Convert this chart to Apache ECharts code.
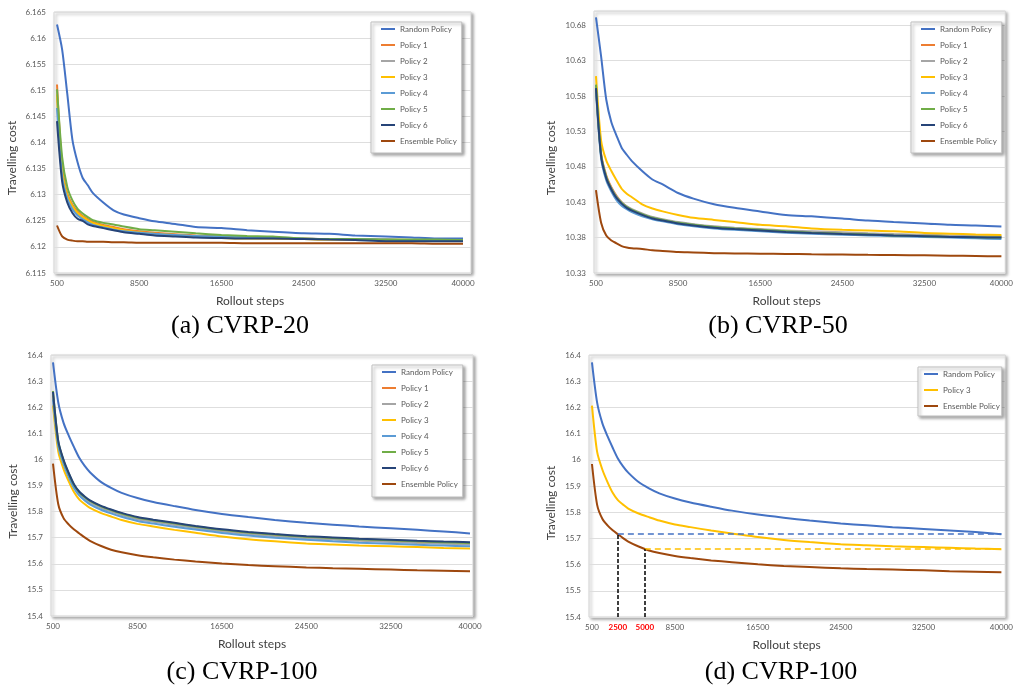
<!DOCTYPE html>
<html>
<head>
<meta charset="utf-8">
<script src="https://cdn.jsdelivr.net/npm/echarts@6/dist/echarts.min.js"></script>
<style>html,body{margin:0;padding:0;background:#fff}#c{width:1016px;height:688px}</style>
</head>
<body>
<div id="c"></div>
<script>
// ---------------- data ----------------
const steps = [500,1000,1500,2000,2500,3000,3500,4000,5000,6000,7000,8500,10000,12000,14000,16500,19000,21500,24500,27000,29500,32500,35000,37500,40000];
const seriesNames = ['Random Policy','Policy 1','Policy 2','Policy 3','Policy 4','Policy 5','Policy 6','Ensemble Policy'];
const dNames = ['Random Policy','Policy 3','Ensemble Policy'];
const xTickValues = [500,8500,16500,24500,32500,40000];
const xTickLabels = ['500','8500','16500','24500','32500','40000'];
// panel (d): annotated crossing positions as drawn, with their printed labels
const dTickValues = [500,3000,5600,8500,16500,24500,32500,40000];
const dTickLabels = ['500','2500','5000','8500','16500','24500','32500','40000'];
const dRedLabels = ['2500','5000'];
const dCrossSteps = [3000,5600];
const dLevels = [15.716,15.659];
const captions = ['(a) CVRP-20','(b) CVRP-50','(c) CVRP-100','(d) CVRP-100'];

// (a) CVRP-20
const a_random = [6.1626,6.1578,6.1493,6.1405,6.1362,6.1332,6.1318,6.1303,6.1285,6.1270,6.1262,6.1255,6.1249,6.1244,6.1238,6.1236,6.1232,6.1229,6.1226,6.1225,6.1222,6.1220,6.1218,6.1216,6.1216];
const a_p1 = [6.1511,6.1355,6.1303,6.1281,6.1268,6.1259,6.1253,6.1248,6.1242,6.1238,6.1234,6.1230,6.1227,6.1224,6.1222,6.1220,6.1218,6.1217,6.1216,6.1215,6.1215,6.1214,6.1213,6.1212,6.1212];
const a_p2 = [6.1485,6.1342,6.1297,6.1276,6.1263,6.1255,6.1249,6.1244,6.1238,6.1234,6.1230,6.1227,6.1224,6.1222,6.1220,6.1218,6.1217,6.1216,6.1215,6.1214,6.1214,6.1213,6.1213,6.1212,6.1212];
const a_p3 = [6.1492,6.1345,6.1298,6.1278,6.1265,6.1257,6.1251,6.1246,6.1240,6.1236,6.1232,6.1228,6.1225,6.1223,6.1220,6.1217,6.1216,6.1216,6.1215,6.1214,6.1214,6.1213,6.1213,6.1212,6.1212];
const a_p4 = [6.1466,6.1335,6.1292,6.1272,6.1260,6.1253,6.1247,6.1242,6.1237,6.1233,6.1230,6.1227,6.1225,6.1223,6.1221,6.1220,6.1219,6.1218,6.1216,6.1215,6.1215,6.1214,6.1213,6.1213,6.1213];
const a_p5 = [6.1502,6.1372,6.1315,6.1289,6.1273,6.1264,6.1257,6.1251,6.1246,6.1243,6.1239,6.1234,6.1232,6.1229,6.1226,6.1223,6.1221,6.1220,6.1216,6.1215,6.1215,6.1214,6.1214,6.1214,6.1213];
const a_p6 = [6.1441,6.1325,6.1285,6.1265,6.1254,6.1250,6.1243,6.1240,6.1236,6.1232,6.1228,6.1225,6.1222,6.1220,6.1218,6.1217,6.1216,6.1216,6.1215,6.1214,6.1213,6.1211,6.1211,6.1211,6.1211];
const a_ens = [6.1241,6.1220,6.1214,6.1212,6.1211,6.1211,6.1210,6.1210,6.1210,6.1209,6.1209,6.1208,6.1208,6.1208,6.1208,6.1208,6.1207,6.1207,6.1207,6.1207,6.1207,6.1207,6.1207,6.1206,6.1206];

// (b) CVRP-50
const b_random = [10.691,10.636,10.575,10.543,10.524,10.507,10.497,10.488,10.474,10.462,10.455,10.443,10.435,10.427,10.422,10.417,10.412,10.410,10.407,10.404,10.402,10.400,10.398,10.397,10.3955];
const b_p1 = [10.594,10.499,10.468,10.451,10.439,10.430,10.424,10.419,10.413,10.408,10.405,10.401,10.398,10.395,10.393,10.391,10.389,10.3875,10.386,10.385,10.384,10.383,10.382,10.3815,10.381];
const b_p2 = [10.592,10.497,10.466,10.450,10.438,10.430,10.424,10.420,10.414,10.409,10.406,10.402,10.399,10.396,10.394,10.392,10.390,10.389,10.3875,10.386,10.385,10.384,10.383,10.382,10.3818];
const b_p3 = [10.608,10.517,10.489,10.474,10.461,10.449,10.442,10.437,10.427,10.421,10.417,10.412,10.408,10.405,10.402,10.398,10.396,10.393,10.391,10.390,10.389,10.3865,10.3855,10.3845,10.3837];
const b_p4 = [10.588,10.492,10.461,10.445,10.433,10.425,10.420,10.416,10.410,10.406,10.403,10.399,10.396,10.393,10.391,10.389,10.387,10.3855,10.384,10.383,10.382,10.381,10.380,10.379,10.378];
const b_p5 = [10.596,10.497,10.466,10.449,10.437,10.429,10.423,10.419,10.413,10.408,10.405,10.401,10.398,10.395,10.393,10.391,10.389,10.387,10.3855,10.3845,10.383,10.382,10.381,10.3805,10.380];
const b_p6 = [10.591,10.495,10.464,10.448,10.436,10.428,10.422,10.418,10.412,10.407,10.404,10.400,10.397,10.394,10.392,10.390,10.388,10.3865,10.385,10.384,10.383,10.382,10.381,10.3805,10.380];
const b_ens = [10.447,10.401,10.383,10.376,10.372,10.368,10.366,10.365,10.364,10.362,10.361,10.3595,10.359,10.358,10.3577,10.3573,10.357,10.3565,10.356,10.3556,10.3553,10.355,10.3545,10.354,10.3535];

// (c) and (d) CVRP-100
const c_random = [16.372,16.218,16.140,16.090,16.046,16.005,15.975,15.951,15.915,15.891,15.872,15.852,15.837,15.821,15.806,15.791,15.779,15.768,15.757,15.750,15.743,15.736,15.730,15.724,15.716];
const c_p1 = [16.245,16.062,15.992,15.941,15.899,15.871,15.853,15.838,15.818,15.803,15.790,15.774,15.764,15.752,15.740,15.727,15.717,15.709,15.701,15.696,15.691,15.687,15.683,15.680,15.677];
const c_p2 = [16.240,16.058,15.989,15.938,15.896,15.868,15.850,15.835,15.815,15.800,15.787,15.771,15.761,15.749,15.737,15.724,15.714,15.706,15.698,15.693,15.688,15.684,15.680,15.677,15.674];
const c_p3 = [16.207,16.030,15.963,15.915,15.874,15.846,15.829,15.814,15.795,15.781,15.768,15.753,15.743,15.730,15.719,15.705,15.694,15.686,15.678,15.674,15.670,15.667,15.664,15.661,15.659];
const c_p4 = [16.230,16.050,15.982,15.931,15.889,15.861,15.843,15.828,15.808,15.793,15.780,15.764,15.754,15.742,15.731,15.718,15.708,15.700,15.692,15.686,15.681,15.677,15.673,15.670,15.667];
const c_p5 = [16.262,16.068,15.996,15.945,15.902,15.874,15.856,15.841,15.821,15.806,15.793,15.777,15.767,15.755,15.743,15.730,15.720,15.712,15.704,15.699,15.694,15.690,15.686,15.683,15.680];
const c_p6 = [16.259,16.070,15.998,15.947,15.904,15.876,15.858,15.843,15.823,15.808,15.795,15.779,15.769,15.757,15.745,15.732,15.722,15.714,15.706,15.701,15.696,15.692,15.688,15.685,15.683];
const c_ens = [15.984,15.828,15.775,15.750,15.731,15.716,15.701,15.688,15.669,15.654,15.644,15.633,15.625,15.616,15.609,15.601,15.595,15.591,15.586,15.583,15.581,15.578,15.575,15.573,15.571];

const colors = {
  'Random Policy':'#4472C4','Policy 1':'#ED7D31','Policy 2':'#A5A5A5','Policy 3':'#FFC000',
  'Policy 4':'#5B9BD5','Policy 5':'#70AD47','Policy 6':'#264478','Ensemble Policy':'#9E480E'
};

const panelData = [
  [a_random,a_p1,a_p2,a_p3,a_p4,a_p5,a_p6,a_ens],
  [b_random,b_p1,b_p2,b_p3,b_p4,b_p5,b_p6,b_ens],
  [c_random,c_p1,c_p2,c_p3,c_p4,c_p5,c_p6,c_ens],
  [c_random,c_p3,c_ens]
];
const panelNames = [seriesNames,seriesNames,seriesNames,dNames];

// ---------------- layout / style ----------------
const FONT = 'Lato';
const grids = [
  {left:54, top:12, width:417, height:261},
  {left:594, top:11, width:418, height:262},
  {left:51, top:355, width:422, height:261},
  {left:589, top:355, width:423, height:262}
];
const xRanges = [[208,40778],[308,40383],[311,40283],[215,40379]];
const yRanges = [[6.115,6.165,0.005],[10.33,10.7,0.05],[15.4,16.4,0.1],[15.4,16.4,0.1]];
const yNameGap = [36,37,32,32];
const yNamePad = [31,32,32,34];
const xNamePad = [25,26,20,21];
const legendPos = [[371,22,[2,5,7,10]],[911,22,[2,5,7,10]],[372,365,[2,5,8,10]],[918,367,[2,2,5,6]]];
const captionPos = [[240,326],[778,326],[242,672],[781,672]];

const option = {
  animation:false,
  backgroundColor:'#fff',
  textStyle:{fontFamily:FONT},
  grid: grids.map(g => Object.assign({
    show:true, backgroundColor:'#fff', borderColor:'#d4d4d4', borderWidth:1,
    shadowColor:'rgba(0,0,0,0.35)', shadowBlur:3, shadowOffsetX:2, shadowOffsetY:2,
    containLabel:false
  }, g)),
  xAxis: grids.map((g,i) => ({
    type:'value', gridIndex:i, min:xRanges[i][0], max:xRanges[i][1],
    axisLine:{show:false}, axisTick:{show:false}, splitLine:{show:false},
    axisLabel:{
      customValues: i===3 ? dTickValues : xTickValues,
      fontSize:8, color:'#595959', margin:6, fontFamily:FONT,
      formatter: i===3
        ? (v => { const k = dTickValues.indexOf(v); const t = dTickLabels[k];
                  return dRedLabels.indexOf(t) >= 0 ? '{red|' + t + '}' : t; })
        : (v => xTickLabels[xTickValues.indexOf(v)]),
      rich:{red:{color:'#FF0000', fontWeight:'bold', fontSize:8, fontFamily:FONT}}
    },
    name:'Rollout steps', nameLocation:'middle', nameGap:22,
    nameTextStyle:{fontSize:12, color:'#404040', fontFamily:FONT, padding:[0,xNamePad[i],0,0]}
  })),
  yAxis: grids.map((g,i) => ({
    type:'value', gridIndex:i, min:yRanges[i][0], max:yRanges[i][1], interval:yRanges[i][2],
    axisLine:{show:false}, axisTick:{show:false},
    splitLine:{show:true, lineStyle:{color:'#dedede', width:1}},
    axisLabel:{fontSize:8, color:'#595959', margin:8, fontFamily:FONT, showMaxLabel: i!==1},
    name:'Travelling cost', nameLocation:'middle', nameRotate:90, nameGap:yNameGap[i],
    nameTextStyle:{fontSize:12, color:'#404040', fontFamily:FONT, padding:[0,yNamePad[i],0,0]}
  })),
  legend: legendPos.map((p,i) => ({
    data: panelNames[i], orient:'vertical', left:p[0], top:p[1], padding:p[2],
    icon:'rect', itemWidth:14, itemHeight:2, itemGap:6, selectedMode:false,
    textStyle:{fontSize:8, color:'#595959', fontFamily:FONT, lineHeight:10},
    backgroundColor:'#fff', borderColor:'#bfbfbf', borderWidth:1,
    shadowColor:'rgba(0,0,0,0.35)', shadowBlur:3, shadowOffsetX:2, shadowOffsetY:2
  })),
  graphic: captions.map((t,i) => ({
    type:'text', x:captionPos[i][0], y:captionPos[i][1],
    style:{text:t, fill:'#000', font:'26px "Liberation Serif"', align:'center', verticalAlign:'middle'}
  })),
  series: []
};

panelData.forEach((list,pi) => {
  list.forEach((vals,si) => {
    const name = panelNames[pi][si];
    const s = {
      type:'line', name:name, xAxisIndex:pi, yAxisIndex:pi,
      data: steps.map((x,k) => [x, vals[k]]),
      symbol:'none', smooth:0.25,
      lineStyle:{color:colors[name], width:2},
      itemStyle:{color:colors[name]}
    };
    if (pi === 3 && name === 'Ensemble Policy') {
      s.markLine = {
        silent:true, symbol:'none', animation:false, label:{show:false},
        data:[
          [{coord:[dCrossSteps[0], dLevels[0]], lineStyle:{color:colors['Random Policy'], type:[6,4], width:1.5}}, {coord:[40000, dLevels[0]]}],
          [{coord:[dCrossSteps[1], dLevels[1]], lineStyle:{color:colors['Policy 3'], type:[6,4], width:1.5}}, {coord:[40000, dLevels[1]]}],
          [{coord:[dCrossSteps[0], yRanges[3][0]], lineStyle:{color:'#000', type:[4,2], width:1.5}}, {coord:[dCrossSteps[0], dLevels[0]]}],
          [{coord:[dCrossSteps[1], yRanges[3][0]], lineStyle:{color:'#000', type:[4,2], width:1.5}}, {coord:[dCrossSteps[1], dLevels[1]]}]
        ]
      };
    }
    option.series.push(s);
  });
});

const chart = echarts.init(document.getElementById('c'), null, {renderer:'canvas'});
chart.setOption(option);
</script>
</body>
</html>
